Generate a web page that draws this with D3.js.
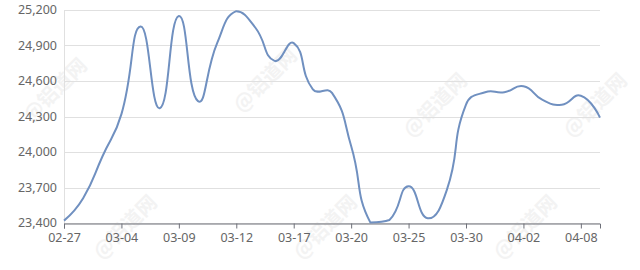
<!DOCTYPE html>
<html>
<head>
<meta charset="utf-8">
<script src="https://cdn.jsdelivr.net/npm/d3@7"></script>
<style>
  body { margin: 0; background: #fff; }
  svg { display: block; font-family: "Noto Sans", "Liberation Sans", sans-serif; }
</style>
</head>
<body>
<script>
let dates = ["02-27","03-02","03-03","03-04","03-05","03-06","03-09","03-10","03-11","03-12",
    "03-13","03-16","03-17","03-18","03-19","03-20","03-23","03-24","03-25","03-26",
    "03-27","03-30","03-31","04-01","04-02","04-03","04-07","04-08","04-09"];
let prices = [23420,23610,23960,24320,25060,24370,25150,24430,24920,25190,
    25050,24770,24920,24530,24500,24050,23405,23425,23710,23440,
    23680,24400,24505,24505,24555,24440,24400,24475,24290];
let yTicks = [23400,23700,24000,24300,24600,24900,25200];
let labelEvery = 3;
let marks = [[60,95],[270,85],[440,110],[600,110],[130,232],[330,232],[530,232]];

let width = 640, height = 270;
let margin = {top: 10, right: 40, bottom: 47, left: 64};

let svg = d3.select("body").append("svg")
    .attr("width", width)
    .attr("height", height);

// faint watermarks
svg.append("g").selectAll("text")
    .data(marks)
    .join("text")
    .attr("transform", d => "translate(" + d[0] + "," + d[1] + ") rotate(-45)")
    .attr("text-anchor", "middle")
    .attr("font-size", 20)
    .attr("font-weight", "bold")
    .attr("font-family", "Noto Sans CJK SC")
    .attr("fill", "#f3f3f3")
    .text("@铝道网");

let x = d3.scalePoint()
    .domain(dates)
    .range([margin.left, width - margin.right]);

let y = d3.scaleLinear()
    .domain([23400, 25200])
    .range([height - margin.bottom, margin.top]);

// grid
svg.append("g").selectAll("line")
    .data(yTicks)
    .join("line")
    .attr("x1", margin.left)
    .attr("x2", width - margin.right)
    .attr("y1", d => Math.round(y(d)) + 0.5)
    .attr("y2", d => Math.round(y(d)) + 0.5)
    .attr("stroke", "#e0e0e0");

svg.append("line")
    .attr("x1", margin.left + 0.5).attr("x2", margin.left + 0.5)
    .attr("y1", margin.top).attr("y2", height - margin.bottom)
    .attr("stroke", "#e0e0e0");

// y labels
svg.append("g").selectAll("text")
    .data(yTicks)
    .join("text")
    .attr("x", margin.left - 7)
    .attr("y", d => y(d))
    .attr("dy", "0.35em")
    .attr("text-anchor", "end")
    .attr("font-size", 12.5)
    .attr("fill", "#666")
    .text(d3.format(","));

// x axis
let xAxis = svg.append("g")
    .attr("transform", "translate(0," + (Math.round(y(23400)) + 0.5) + ")")
    .call(d3.axisBottom(x)
        .tickValues(dates.filter((d, i) => i % labelEvery == 0))
        .tickSize(5)
        .tickPadding(5));
xAxis.select(".domain").attr("stroke", "#6e7079");
xAxis.selectAll(".tick line").attr("stroke", "#6e7079");
xAxis.selectAll("text")
    .attr("font-size", 12.5)
    .attr("font-family", "Noto Sans, sans-serif")
    .attr("fill", "#666");

// echarts-like smooth line, control points kept inside the data's y range
let smoothPath = (pts, smooth) => {
    let ys = pts.map(p => p[1]);
    let lo = d3.min(ys), hi = d3.max(ys);
    let clamp = v => Math.max(lo, Math.min(hi, v));
    let p = d3.path();
    let cx = 0, cy = 0;
    pts.forEach(([px, py], k) => {
        if (k == 0) { p.moveTo(px, py); cx = px; cy = py; return; }
        let [ax, ay] = pts[k - 1];
        let vx = 0, vy = 0, ratio = 0.5, nx = px, ny = py;
        if (k < pts.length - 1) {
            let [bx, by] = pts[k + 1];
            vx = bx - ax; vy = by - ay;
            let l0 = Math.hypot(px - ax, py - ay), l1 = Math.hypot(bx - px, by - py);
            ratio = l1 / (l0 + l1);
            nx = px - vx * smooth * (1 - ratio);
            ny = clamp(py - vy * smooth * (1 - ratio));
        }
        p.bezierCurveTo(cx, cy, nx, ny, px, py);
        cx = px + vx * smooth * ratio;
        cy = clamp(py + vy * smooth * ratio);
    });
    return p.toString();
};

svg.append("path")
    .attr("d", smoothPath(dates.map((d, i) => [x(d), y(prices[i])]), 0.5))
    .attr("fill", "none")
    .attr("stroke", "#7090c0")
    .attr("stroke-width", 2)
    .attr("stroke-linejoin", "round");
</script>
</body>
</html>
